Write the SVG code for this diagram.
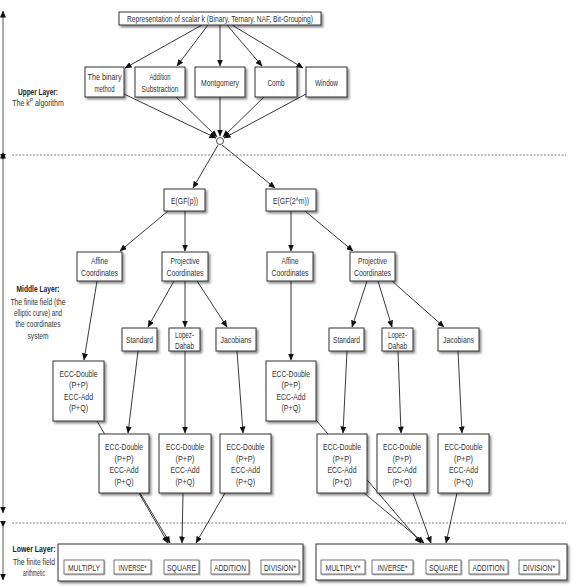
<svg xmlns="http://www.w3.org/2000/svg" width="579" height="586" viewBox="0 0 579 586">
<defs>
<marker id="ah" markerUnits="userSpaceOnUse" markerWidth="7" markerHeight="6" refX="6.5" refY="3" orient="auto">
<path d="M0,0 L7,3 L0,6 z" fill="#111"/>
</marker>
<filter id="sh" x="-20%" y="-20%" width="150%" height="150%">
<feDropShadow dx="1.8" dy="2" stdDeviation="1.2" flood-color="#000" flood-opacity="0.45"/>
</filter>
<filter id="sh2" x="-20%" y="-30%" width="150%" height="180%">
<feDropShadow dx="1" dy="1" stdDeviation="0.6" flood-color="#000" flood-opacity="0.3"/>
</filter>
</defs>
<style>
.b{fill:#fff;stroke:#333;stroke-width:1;filter:url(#sh)}
.ib{fill:#fff;stroke:#555;stroke-width:0.8;filter:url(#sh2)}
text{font-family:"Liberation Sans",Arial,sans-serif;font-size:9.5px;fill:#333;text-anchor:middle}
.lb{font-weight:bold;fill:#222}
.c line{stroke:#222;stroke-width:0.9;marker-end:url(#ah)}
.d{stroke:#666;stroke-width:0.8;stroke-dasharray:2,1.5;fill:none}
.la line{stroke:#333;stroke-width:0.8;marker-end:url(#ah);marker-start:url(#ah)}
</style>
<rect width="579" height="586" fill="#fff"/>

<g id="layers">
<line class="d" x1="12" y1="155" x2="566" y2="155"/>
<line class="d" x1="12" y1="523" x2="566" y2="523"/>
<g class="la">
<line x1="3" y1="152" x2="3" y2="11"/>
<line x1="3" y1="160" x2="3" y2="513"/>
<line x1="3" y1="527" x2="3" y2="580"/>
</g>
<text x="38" y="95" class="lb" textLength="40" lengthAdjust="spacingAndGlyphs">Upper Layer:</text>
<g transform="translate(38,106) scale(0.74,1)"><text x="0" y="0">The k<tspan font-size="6.5" dy="-3.5">P</tspan><tspan dy="3.5"> algorithm</tspan></text></g>
<text x="38" y="292" class="lb" textLength="43" lengthAdjust="spacingAndGlyphs">Middle Layer:</text>
<text x="38" y="305" textLength="55" lengthAdjust="spacingAndGlyphs">The finite field (the</text>
<text x="38" y="316" textLength="48" lengthAdjust="spacingAndGlyphs">elliptic curve) and</text>
<text x="38" y="327" textLength="45" lengthAdjust="spacingAndGlyphs">the coordinates</text>
<text x="38" y="339" textLength="21" lengthAdjust="spacingAndGlyphs">system</text>
<text x="34" y="552" class="lb" textLength="43" lengthAdjust="spacingAndGlyphs">Lower Layer:</text>
<text x="34" y="565" textLength="42" lengthAdjust="spacingAndGlyphs">The finite field</text>
<text x="34" y="576" textLength="22" lengthAdjust="spacingAndGlyphs">arithmetic</text>
</g>

<g id="connectors" class="c">
<line x1="202" y1="25" x2="125" y2="68"/>
<line x1="208" y1="25" x2="177" y2="66"/>
<line x1="220" y1="25" x2="220" y2="66"/>
<line x1="227" y1="25" x2="262" y2="66"/>
<line x1="232" y1="25" x2="303" y2="68"/>
<line x1="124" y1="94" x2="216" y2="138"/>
<line x1="176" y1="97" x2="217" y2="137"/>
<line x1="220" y1="97" x2="220" y2="136"/>
<line x1="264" y1="97" x2="223" y2="137"/>
<line x1="306" y1="94" x2="224" y2="138"/>
<line x1="218" y1="145" x2="193" y2="188"/>
<line x1="222" y1="145" x2="275" y2="188"/>
<line x1="168" y1="211" x2="120" y2="251"/>
<line x1="185" y1="211" x2="185" y2="251"/>
<line x1="291" y1="211" x2="291" y2="251"/>
<line x1="305" y1="211" x2="353" y2="251"/>
<line x1="174" y1="281" x2="148" y2="327"/>
<line x1="185" y1="281" x2="185" y2="327"/>
<line x1="197" y1="281" x2="227" y2="327"/>
<line x1="367" y1="281" x2="352" y2="327"/>
<line x1="378" y1="281" x2="392" y2="327"/>
<line x1="392" y1="281" x2="444" y2="327"/>
<line x1="97" y1="281" x2="84" y2="360"/>
<line x1="291" y1="281" x2="291" y2="360"/>
<line x1="138" y1="351" x2="128" y2="433"/>
<line x1="185" y1="351" x2="185" y2="433"/>
<line x1="237" y1="351" x2="243" y2="433"/>
<line x1="347" y1="351" x2="343" y2="433"/>
<line x1="398" y1="351" x2="401" y2="433"/>
<line x1="458" y1="351" x2="462" y2="433"/>
<line x1="97" y1="421" x2="168" y2="543"/>
<line x1="140" y1="493" x2="170" y2="543"/>
<line x1="183" y1="493" x2="182" y2="543"/>
<line x1="225" y1="493" x2="196" y2="543"/>
<line x1="316" y1="420" x2="421" y2="543"/>
<line x1="364" y1="493" x2="424" y2="543"/>
<line x1="413" y1="493" x2="431" y2="543"/>
<line x1="457" y1="493" x2="446" y2="543"/>
</g>

<g id="junction"><circle cx="220" cy="141" r="3.5" fill="#fff" stroke="#333" stroke-width="0.9"/></g>

<g id="top"><rect class="b" x="119" y="12" width="202" height="13"/><text x="220" y="21.5" textLength="186" lengthAdjust="spacingAndGlyphs">Representation of scalar k (Binary, Ternary, NAF, Bit-Grouping)</text></g>
<g id="binary"><rect class="b" x="85" y="67" width="39" height="30"/><text x="104.5" y="80" textLength="34" lengthAdjust="spacingAndGlyphs">The binary</text><text x="104.5" y="92" textLength="20" lengthAdjust="spacingAndGlyphs">method</text></g>
<g id="addsub"><rect class="b" x="135" y="67" width="50" height="30"/><text x="160" y="80" textLength="21" lengthAdjust="spacingAndGlyphs">Addition</text><text x="160" y="92" textLength="37" lengthAdjust="spacingAndGlyphs">Substraction</text></g>
<g id="montgomery"><rect class="b" x="195" y="67" width="50" height="30"/><text x="220" y="85.5" textLength="38" lengthAdjust="spacingAndGlyphs">Montgomery</text></g>
<g id="comb"><rect class="b" x="255" y="67" width="42" height="30"/><text x="276" y="85.5" textLength="17" lengthAdjust="spacingAndGlyphs">Comb</text></g>
<g id="window"><rect class="b" x="306" y="67" width="41" height="30"/><text x="326.5" y="85.5" textLength="23" lengthAdjust="spacingAndGlyphs">Window</text></g>

<g id="egfp"><rect class="b" x="164" y="189" width="41" height="22"/><text x="184.5" y="203.5" textLength="27" lengthAdjust="spacingAndGlyphs">E(GF(p))</text></g>
<g id="egf2m"><rect class="b" x="266" y="189" width="50" height="22"/><text x="291" y="203.5" textLength="36" lengthAdjust="spacingAndGlyphs">E(GF(2^m))</text></g>

<g id="affL"><rect class="b" x="77" y="252" width="45" height="29"/><text x="99.5" y="263.5" textLength="17" lengthAdjust="spacingAndGlyphs">Affine</text><text x="99.5" y="275.5" textLength="37" lengthAdjust="spacingAndGlyphs">Coordinates</text></g>
<g id="projL"><rect class="b" x="162" y="252" width="46" height="29"/><text x="185" y="263.5" textLength="29" lengthAdjust="spacingAndGlyphs">Projective</text><text x="185" y="275.5" textLength="37" lengthAdjust="spacingAndGlyphs">Coordinates</text></g>
<g id="affR"><rect class="b" x="267" y="252" width="46" height="29"/><text x="290" y="263.5" textLength="17" lengthAdjust="spacingAndGlyphs">Affine</text><text x="290" y="275.5" textLength="37" lengthAdjust="spacingAndGlyphs">Coordinates</text></g>
<g id="projR"><rect class="b" x="350" y="252" width="45" height="29"/><text x="372.5" y="263.5" textLength="29" lengthAdjust="spacingAndGlyphs">Projective</text><text x="372.5" y="275.5" textLength="37" lengthAdjust="spacingAndGlyphs">Coordinates</text></g>

<g id="stdL"><rect class="b" x="122" y="328" width="35" height="23"/><text x="139.5" y="342.5" textLength="27" lengthAdjust="spacingAndGlyphs">Standard</text></g>
<g id="lopL"><rect class="b" x="169" y="328" width="31" height="23"/><text x="184.5" y="338" textLength="19" lengthAdjust="spacingAndGlyphs">Lopez-</text><text x="184.5" y="348.5" textLength="19" lengthAdjust="spacingAndGlyphs">Dahab</text></g>
<g id="jacL"><rect class="b" x="216" y="328" width="40" height="23"/><text x="236" y="342.5" textLength="31" lengthAdjust="spacingAndGlyphs">Jacobians</text></g>
<g id="stdR"><rect class="b" x="329" y="328" width="35" height="23"/><text x="346.5" y="342.5" textLength="27" lengthAdjust="spacingAndGlyphs">Standard</text></g>
<g id="lopR"><rect class="b" x="382" y="328" width="31" height="23"/><text x="397.5" y="338" textLength="19" lengthAdjust="spacingAndGlyphs">Lopez-</text><text x="397.5" y="348.5" textLength="19" lengthAdjust="spacingAndGlyphs">Dahab</text></g>
<g id="jacR"><rect class="b" x="438" y="328" width="41" height="23"/><text x="458.5" y="342.5" textLength="31" lengthAdjust="spacingAndGlyphs">Jacobians</text></g>

<g id="eccAL"><rect class="b" x="53" y="361" width="51" height="60"/><text x="78.5" y="376.5" textLength="38" lengthAdjust="spacingAndGlyphs">ECC-Double</text><text x="78.5" y="388" textLength="19" lengthAdjust="spacingAndGlyphs">(P+P)</text><text x="78.5" y="399.5" textLength="29" lengthAdjust="spacingAndGlyphs">ECC-Add</text><text x="78.5" y="411" textLength="19" lengthAdjust="spacingAndGlyphs">(P+Q)</text></g>
<g id="eccAR"><rect class="b" x="266" y="361" width="50" height="60"/><text x="291" y="376.5" textLength="38" lengthAdjust="spacingAndGlyphs">ECC-Double</text><text x="291" y="388" textLength="19" lengthAdjust="spacingAndGlyphs">(P+P)</text><text x="291" y="399.5" textLength="29" lengthAdjust="spacingAndGlyphs">ECC-Add</text><text x="291" y="411" textLength="19" lengthAdjust="spacingAndGlyphs">(P+Q)</text></g>

<g id="eccL1"><rect class="b" x="99" y="434" width="50" height="59"/><text x="124" y="450" textLength="38" lengthAdjust="spacingAndGlyphs">ECC-Double</text><text x="124" y="461.5" textLength="19" lengthAdjust="spacingAndGlyphs">(P+P)</text><text x="124" y="473" textLength="29" lengthAdjust="spacingAndGlyphs">ECC-Add</text><text x="124" y="484.5" textLength="19" lengthAdjust="spacingAndGlyphs">(P+Q)</text></g>
<g id="eccL2"><rect class="b" x="159" y="434" width="52" height="59"/><text x="185" y="450" textLength="38" lengthAdjust="spacingAndGlyphs">ECC-Double</text><text x="185" y="461.5" textLength="19" lengthAdjust="spacingAndGlyphs">(P+P)</text><text x="185" y="473" textLength="29" lengthAdjust="spacingAndGlyphs">ECC-Add</text><text x="185" y="484.5" textLength="19" lengthAdjust="spacingAndGlyphs">(P+Q)</text></g>
<g id="eccL3"><rect class="b" x="220" y="434" width="51" height="59"/><text x="245.5" y="450" textLength="38" lengthAdjust="spacingAndGlyphs">ECC-Double</text><text x="245.5" y="461.5" textLength="19" lengthAdjust="spacingAndGlyphs">(P+P)</text><text x="245.5" y="473" textLength="29" lengthAdjust="spacingAndGlyphs">ECC-Add</text><text x="245.5" y="484.5" textLength="19" lengthAdjust="spacingAndGlyphs">(P+Q)</text></g>
<g id="eccR1"><rect class="b" x="317" y="434" width="50" height="59"/><text x="342" y="450" textLength="38" lengthAdjust="spacingAndGlyphs">ECC-Double</text><text x="342" y="461.5" textLength="19" lengthAdjust="spacingAndGlyphs">(P+P)</text><text x="342" y="473" textLength="29" lengthAdjust="spacingAndGlyphs">ECC-Add</text><text x="342" y="484.5" textLength="19" lengthAdjust="spacingAndGlyphs">(P+Q)</text></g>
<g id="eccR2"><rect class="b" x="377" y="434" width="50" height="59"/><text x="402" y="450" textLength="38" lengthAdjust="spacingAndGlyphs">ECC-Double</text><text x="402" y="461.5" textLength="19" lengthAdjust="spacingAndGlyphs">(P+P)</text><text x="402" y="473" textLength="29" lengthAdjust="spacingAndGlyphs">ECC-Add</text><text x="402" y="484.5" textLength="19" lengthAdjust="spacingAndGlyphs">(P+Q)</text></g>
<g id="eccR3"><rect class="b" x="438" y="434" width="51" height="59"/><text x="463.5" y="450" textLength="38" lengthAdjust="spacingAndGlyphs">ECC-Double</text><text x="463.5" y="461.5" textLength="19" lengthAdjust="spacingAndGlyphs">(P+P)</text><text x="463.5" y="473" textLength="29" lengthAdjust="spacingAndGlyphs">ECC-Add</text><text x="463.5" y="484.5" textLength="19" lengthAdjust="spacingAndGlyphs">(P+Q)</text></g>

<g id="arithL">
<rect class="b" x="58" y="544" width="245" height="37"/>
<rect class="ib" x="64" y="560" width="40" height="14"/><text x="84" y="570.5" textLength="32" lengthAdjust="spacingAndGlyphs">MULTIPLY</text>
<rect class="ib" x="114" y="560" width="37" height="14"/><text x="132.5" y="570.5" textLength="28" lengthAdjust="spacingAndGlyphs">INVERSE*</text>
<rect class="ib" x="164" y="560" width="35" height="14"/><text x="181.5" y="570.5" textLength="29" lengthAdjust="spacingAndGlyphs">SQUARE</text>
<rect class="ib" x="211" y="560" width="38" height="14"/><text x="230" y="570.5" textLength="32" lengthAdjust="spacingAndGlyphs">ADDITION</text>
<rect class="ib" x="261" y="560" width="38" height="14"/><text x="280" y="570.5" textLength="32" lengthAdjust="spacingAndGlyphs">DIVISION*</text>
</g>
<g id="arithR">
<rect class="b" x="316" y="544" width="251" height="36"/>
<rect class="ib" x="321" y="560" width="44" height="14"/><text x="343" y="570.5" textLength="35" lengthAdjust="spacingAndGlyphs">MULTIPLY*</text>
<rect class="ib" x="372" y="560" width="41" height="14"/><text x="392.5" y="570.5" textLength="30" lengthAdjust="spacingAndGlyphs">INVERSE*</text>
<rect class="ib" x="426" y="560" width="35" height="14"/><text x="443.5" y="570.5" textLength="29" lengthAdjust="spacingAndGlyphs">SQUARE</text>
<rect class="ib" x="469" y="560" width="39" height="14"/><text x="488.5" y="570.5" textLength="32" lengthAdjust="spacingAndGlyphs">ADDITION</text>
<rect class="ib" x="519" y="560" width="40" height="14"/><text x="539" y="570.5" textLength="32" lengthAdjust="spacingAndGlyphs">DIVISION*</text>
</g>
</svg>
